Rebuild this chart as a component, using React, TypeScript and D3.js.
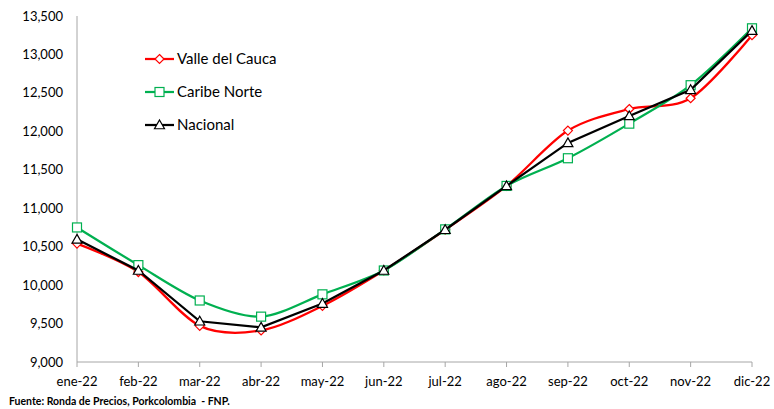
import React from "react";
import * as d3 from "d3";

const categories = ["ene-22","feb-22","mar-22","abr-22","may-22","jun-22","jul-22","ago-22","sep-22","oct-22","nov-22","dic-22"];
const valleDelCauca = [10540,10170,9470,9410,9730,10190,10720,11290,12010,12290,12430,13250];
const caribeNorte = [10750,10260,9800,9590,9880,10190,10725,11290,11650,12100,12600,13340];
const nacional = [10595,10190,9530,9450,9760,10190,10720,11290,11850,12200,12540,13310];
const yTicks = [9000,9500,10000,10500,11000,11500,12000,12500,13000,13500];
const seriesNames = ["Valle del Cauca","Caribe Norte","Nacional"];

const W = 774, H = 409;
const FONT = "Lato, 'Open Sans', sans-serif";

export default function App() {
  const x = d3.scalePoint<string>().domain(categories).range([77, 752]);
  const y = d3.scaleLinear().domain([9000, 13500]).range([362, 16]);
  const fmt = d3.format(",");

  const series = [
    { name: seriesNames[0], values: valleDelCauca, color: "#ff0000", marker: "diamond", curve: d3.curveCardinal.tension(0.1) },
    { name: seriesNames[1], values: caribeNorte, color: "#00b050", marker: "square", curve: d3.curveCardinal.tension(0.1) },
    { name: seriesNames[2], values: nacional, color: "#000000", marker: "triangle", curve: d3.curveLinear },
  ];

  const marker = (type: string, cx: number, cy: number, color: string, key: string) => {
    if (type === "diamond") {
      const s = 4.5;
      return <path key={key} d={`M${cx},${cy - s}L${cx + s},${cy}L${cx},${cy + s}L${cx - s},${cy}Z`} fill="#fff" stroke={color} strokeWidth={1.2} />;
    }
    if (type === "square") {
      const s = 4.5;
      return <rect key={key} x={cx - s} y={cy - s} width={2 * s} height={2 * s} fill="#fff" stroke={color} strokeWidth={1.2} />;
    }
    const s = 5;
    return <path key={key} d={`M${cx},${cy - s}L${cx + s},${cy + s * 0.75}L${cx - s},${cy + s * 0.75}Z`} fill="#fff" stroke={color} strokeWidth={1.2} />;
  };

  return (
    <svg width={W} height={H} style={{ position: "absolute", left: 0, top: 0, background: "#fff" }} fontFamily={FONT}>
      <rect width={W} height={H} fill="#fff" />
      {/* y axis */}
      <line x1={77} x2={77} y1={y(13500)} y2={y(9000)} stroke="#a6a6a6" strokeWidth={1} />
      {yTicks.map((t) => (
        <text key={t} x={63} y={y(t)} dy="0.35em" textAnchor="end" fontSize={13} fill="#000">{fmt(t)}</text>
      ))}
      {/* x axis */}
      <line x1={77} x2={752} y1={362} y2={362} stroke="#a6a6a6" strokeWidth={1} />
      {categories.map((c) => (
        <g key={c}>
          <line x1={x(c)} x2={x(c)} y1={362} y2={367} stroke="#a6a6a6" strokeWidth={1} />
          <text x={x(c)} y={386} textAnchor="middle" fontSize={13} fill="#000">{c}</text>
        </g>
      ))}
      {/* series */}
      {series.map((s) => {
        const line = d3.line<number>().x((_, i) => x(categories[i])!).y((v) => y(v)).curve(s.curve);
        return (
          <g key={s.name}>
            <path d={line(s.values)!} fill="none" stroke={s.color} strokeWidth={2.25} />
            {s.values.map((v, i) => marker(s.marker, x(categories[i])!, y(v), s.color, `${s.name}-${i}`))}
          </g>
        );
      })}
      {/* legend */}
      {series.map((s, i) => {
        const ly = 59 + i * 33;
        return (
          <g key={`leg-${s.name}`}>
            <line x1={145} x2={174} y1={ly} y2={ly} stroke={s.color} strokeWidth={2.25} />
            {marker(s.marker, 159.5, ly, s.color, `leg-m-${i}`)}
            <text x={177} y={ly} dy="0.35em" fontSize={15} fill="#000">{s.name}</text>
          </g>
        );
      })}
      <text x={9} y={405} fontSize={10.5} fontWeight="bold" fill="#000" style={{ whiteSpace: "pre" }}>{"Fuente: Ronda de Precios, Porkcolombia  - FNP."}</text>
    </svg>
  );
}
